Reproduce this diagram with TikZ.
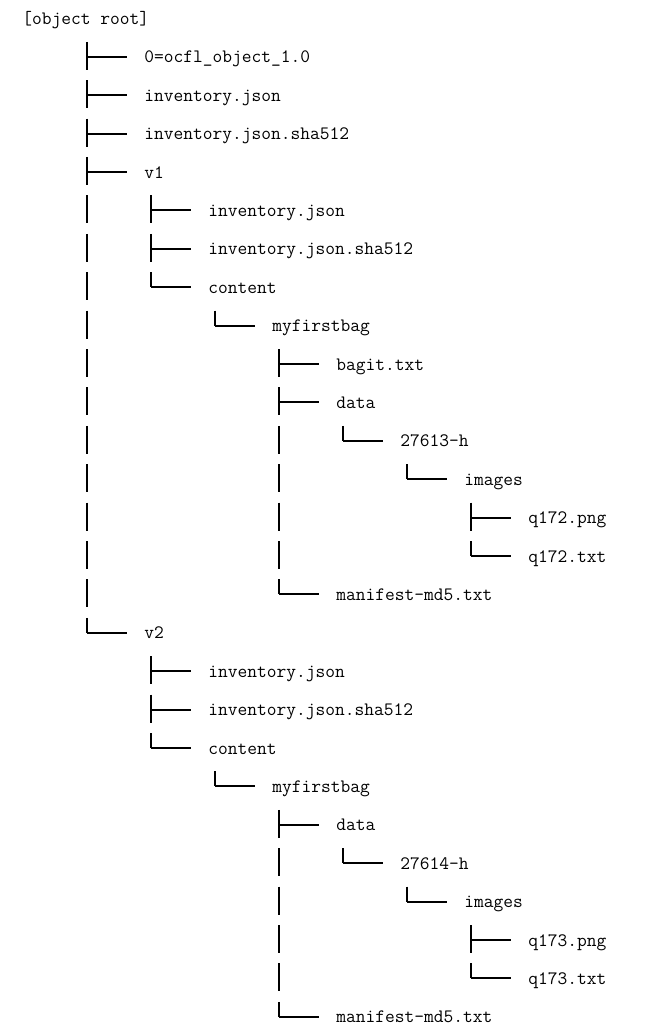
\documentclass[tikz,border=0pt]{standalone}
\usepackage{tikz}
\usetikzlibrary{calc}

% one tree branch: parent, column offset, node above, child, stub end
\newcommand{\treeedge}[5]{%
  \draw[stem] ($(#1.base west |- #3.base)+(#2,17.4)$) -- ($(#1.base west |- #4.base)+(#2,#5)$);
  \draw[twig] ($(#1.base west |- #4.base)+(#2,-6)$) -- ++(40,0);
}

\begin{document}
\begin{tikzpicture}[x=0.75pt,y=-0.75pt,
  item/.style={anchor=base west,inner sep=0pt,font=\fontsize{14.2}{17}\selectfont\ttfamily},
  stem/.style={line width=1.5pt,line cap=butt,dash pattern=on 21pt off 7.8pt},
  twig/.style={line width=1.5pt,line cap=butt}]
\useasboundingbox (0,0) rectangle (659,1027);

% object root
\node[item] (root) at (22,24.4) {[object root]};
\node[item] (ocfl) at (144,62.8) {0=ocfl\_object\_1.0};
\node[item] (inv) at (144,101.2) {inventory.json};
\node[item] (invsha) at (144,139.6) {inventory.json.sha512};
\node[item] (vone) at (144,178.0) {v1};
% version 1
\node[item] (vinv) at (208,216.4) {inventory.json};
\node[item] (vsha) at (208,254.8) {inventory.json.sha512};
\node[item] (vcont) at (208,293.2) {content};
\node[item] (vbag) at (272,331.6) {myfirstbag};
\node[item] (vbagit) at (336,370.0) {bagit.txt};
\node[item] (vdata) at (336,408.4) {data};
\node[item] (vh) at (400,446.8) {27613-h};
\node[item] (vimg) at (464,485.2) {images};
\node[item] (vpng) at (528,523.6) {q172.png};
\node[item] (vtxt) at (528,562.0) {q172.txt};
\node[item] (vman) at (336,600.4) {manifest-md5.txt};
% version 2
\node[item] (vtwo) at (144,638.8) {v2};
\node[item] (winv) at (208,677.2) {inventory.json};
\node[item] (wsha) at (208,715.6) {inventory.json.sha512};
\node[item] (wcont) at (208,754.0) {content};
\node[item] (wbag) at (272,792.4) {myfirstbag};
\node[item] (wdata) at (336,830.8) {data};
\node[item] (wh) at (400,869.2) {27614-h};
\node[item] (wimg) at (464,907.6) {images};
\node[item] (wpng) at (528,946.0) {q173.png};
\node[item] (wtxt) at (528,984.4) {q173.txt};
\node[item] (wman) at (336,1022.8) {manifest-md5.txt};

% branches
\treeedge{root}{65}{root}{ocfl}{7}
\treeedge{root}{65}{ocfl}{inv}{7}
\treeedge{root}{65}{inv}{invsha}{7}
\treeedge{root}{65}{invsha}{vone}{7}
\treeedge{root}{65}{vone}{vtwo}{-6}
\treeedge{vone}{7}{vone}{vinv}{7}
\treeedge{vone}{7}{vinv}{vsha}{7}
\treeedge{vone}{7}{vsha}{vcont}{-6}
\treeedge{vcont}{7}{vcont}{vbag}{-6}
\treeedge{vbag}{7}{vbag}{vbagit}{7}
\treeedge{vbag}{7}{vbagit}{vdata}{7}
\treeedge{vbag}{7}{vdata}{vman}{-6}
\treeedge{vdata}{7}{vdata}{vh}{-6}
\treeedge{vh}{7}{vh}{vimg}{-6}
\treeedge{vimg}{7}{vimg}{vpng}{7}
\treeedge{vimg}{7}{vpng}{vtxt}{-6}
\treeedge{vtwo}{7}{vtwo}{winv}{7}
\treeedge{vtwo}{7}{winv}{wsha}{7}
\treeedge{vtwo}{7}{wsha}{wcont}{-6}
\treeedge{wcont}{7}{wcont}{wbag}{-6}
\treeedge{wbag}{7}{wbag}{wdata}{7}
\treeedge{wbag}{7}{wdata}{wman}{-6}
\treeedge{wdata}{7}{wdata}{wh}{-6}
\treeedge{wh}{7}{wh}{wimg}{-6}
\treeedge{wimg}{7}{wimg}{wpng}{7}
\treeedge{wimg}{7}{wpng}{wtxt}{-6}
\end{tikzpicture}
\end{document}
